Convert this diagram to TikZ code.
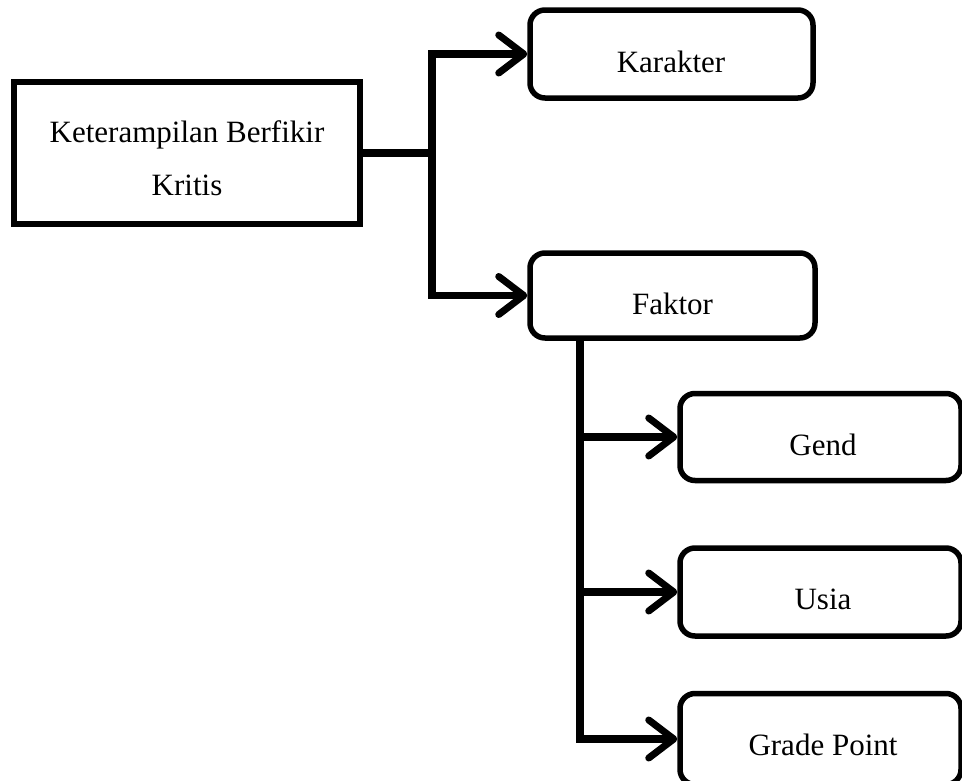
\documentclass[tikz,border=0pt]{standalone}
\usepackage{fontspec}
\setmainfont{Liberation Serif}
\usetikzlibrary{arrows.meta}
\begin{document}
\begin{tikzpicture}[x=1pt,y=-1pt,
  rbox/.style={draw=black, line width=5.5pt, rounded corners=15pt, inner sep=0pt},
  txt/.style={anchor=base, inner sep=0pt, font=\fontsize{31}{37}\selectfont},
  conn/.style={line width=7.5pt, line join=miter},
  arr/.style={-{Straight Barb[length=25pt, width=38pt, round, line width=7pt]}}
]
\useasboundingbox (0,0) rectangle (962,780);
% boxes
\node[draw=black, line width=5.5pt, inner sep=0pt, minimum width=346pt, minimum height=142pt] (main) at (187,153) {};
\node[rbox, minimum width=283pt, minimum height=88pt] (karakter) at (671.5,54) {};
\node[rbox, minimum width=285pt, minimum height=85pt] (faktor) at (672.5,295.5) {};
\node[rbox, minimum width=281pt, minimum height=87pt] (gend) at (820.5,437) {};
\node[rbox, minimum width=281pt, minimum height=88pt] (usia) at (820.5,592) {};
\node[rbox, minimum width=281pt, minimum height=91pt] (grade) at (820.5,739) {};
% texts
\node[txt] (mainA) at (187,142) {Keterampilan Berfikir};
\node[txt] (mainB) at (187,195) {Kritis};
\node[txt] (karakterT) at (671,72) {Karakter};
\node[txt] (faktorT) at (672.5,314) {Faktor};
\node[txt] (gendT) at (823,455) {Gend};
\node[txt] (usiaT) at (823,609) {Usia};
\node[txt] (gradeT) at (823,755) {Grade Point};
% connectors
\coordinate (j) at (432,153);
\coordinate (fk) at (580,338);
\draw[conn] (main.east) -- (j);
\draw[conn, arr] (j) |- (karakter.west);
\draw[conn, arr] (j) |- (faktor.west);
\draw[conn, arr] (fk) |- (gend.west);
\draw[conn, arr] (fk) |- (usia.west);
\draw[conn, arr] (fk) |- (grade.west);
\end{tikzpicture}
\end{document}
